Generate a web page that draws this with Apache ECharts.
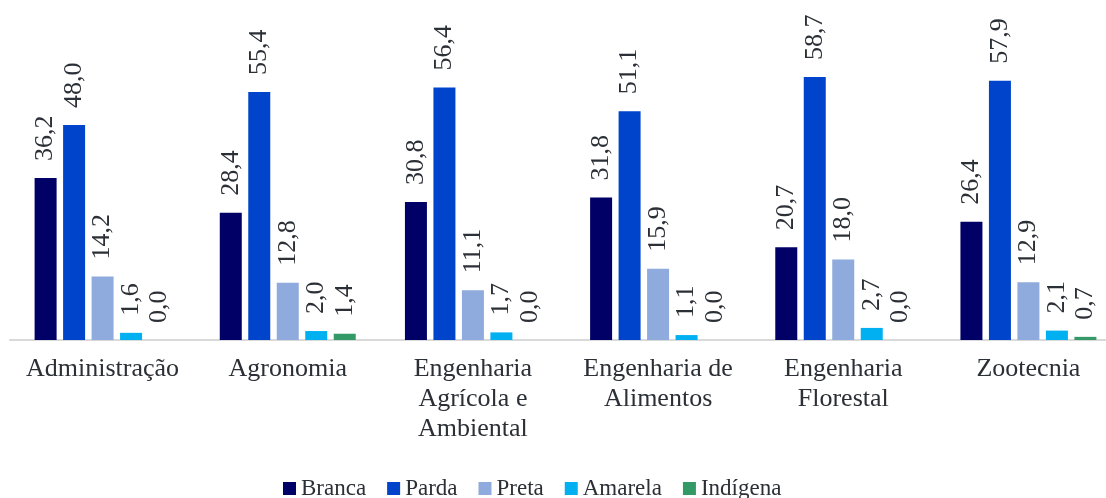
<!DOCTYPE html>
<html>
<head>
<meta charset="utf-8">
<script src="https://cdn.jsdelivr.net/npm/echarts@6/dist/echarts.min.js"></script>
<style>
  html, body { margin: 0; padding: 0; background: #fff; overflow: hidden; }
  /* the drawing surface is a little wider than the window; the right edge is clipped */
  #chart { width: 1125px; height: 498px; }
</style>
</head>
<body>
<div id="chart"></div>
<script>
// Courses (x-axis categories)
const categories = [
  'Administração',
  'Agronomia',
  'Engenharia\nAgrícola e\nAmbiental',
  'Engenharia de\nAlimentos',
  'Engenharia\nFlorestal',
  'Zootecnia'
];

// Share of students (%) by self-declared colour/race
const branca   = [36.2, 28.4, 30.8, 31.8, 20.7, 26.4];
const parda    = [48.0, 55.4, 56.4, 51.1, 58.7, 57.9];
const preta    = [14.2, 12.8, 11.1, 15.9, 18.0, 12.9];
const amarela  = [1.6, 2.0, 1.7, 1.1, 2.7, 2.1];
const indigena = [0.0, 1.4, 0.0, 0.0, 0.0, 0.7];

const seriesNames = ['Branca', 'Parda', 'Preta', 'Amarela', 'Indígena'];
const seriesData = [branca, parda, preta, amarela, indigena];
const colors = ['#000066', '#0044CC', '#8FAADC', '#00B0F0', '#339966'];

const FONT = "'Liberation Serif', 'Times New Roman', serif";
const TEXT = '#2b2f36';

const chart = echarts.init(document.getElementById('chart'), null, { renderer: 'canvas' });

chart.setOption({
  animation: false,
  color: colors,
  textStyle: { fontFamily: FONT },
  legend: {
    data: seriesNames,
    left: 283,
    bottom: -2,
    padding: 0,
    icon: 'rect',
    itemWidth: 13,
    itemHeight: 13,
    itemGap: 21,
    textStyle: { fontFamily: FONT, fontSize: 23, color: TEXT }
  },
  grid: { left: 10, right: 4, top: 26.5, bottom: 158, containLabel: false },
  xAxis: {
    type: 'category',
    data: categories,
    axisLine: { show: true, lineStyle: { color: '#d9d9d9', width: 2 } },
    axisTick: { show: false },
    axisLabel: {
      interval: 0,
      margin: 14,
      fontFamily: FONT,
      fontSize: 26,
      lineHeight: 30,
      color: TEXT
    }
  },
  yAxis: {
    type: 'value',
    min: 0,
    max: 70,
    show: false,
    splitLine: { show: false }
  },
  series: seriesData.map((d, i) => ({
    name: seriesNames[i],
    type: 'bar',
    data: d,
    barWidth: 22,
    barGap: '29.5%',
    itemStyle: { color: colors[i] },
    label: {
      show: true,
      position: 'top',
      rotate: 90,
      align: 'left',
      verticalAlign: 'middle',
      distance: 17,
      fontFamily: FONT,
      fontSize: 26,
      color: TEXT,
      formatter: p => p.value.toFixed(1).replace('.', ',')
    }
  }))
});
</script>
</body>
</html>
